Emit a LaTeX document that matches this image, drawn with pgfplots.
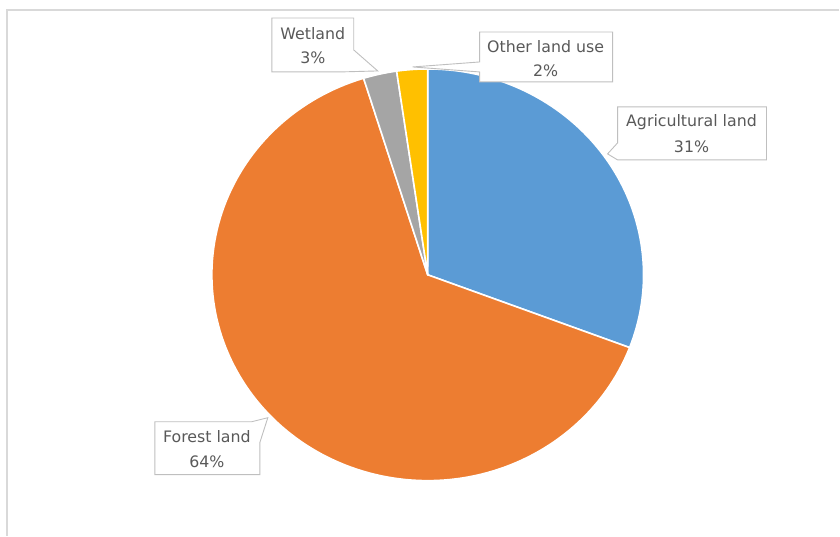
\documentclass[border=0pt]{standalone}
\usepackage{pgfplots}
\usepackage{pgfplotstable}
\pgfplotsset{compat=1.18}
\usepackage{fontspec}
\setmainfont{DejaVu Sans}
\definecolor{agri}{HTML}{5B9BD5}
\definecolor{forest}{HTML}{ED7D31}
\definecolor{wet}{HTML}{A5A5A5}
\definecolor{oth}{HTML}{FFC000}
\definecolor{txt}{HTML}{595959}
\definecolor{bx}{HTML}{BFBFBF}
\definecolor{frm}{HTML}{D9D9D9}
\pgfplotstableread{
label value
Agricultural 30.75
Forest 64.45
Wetland 2.5
Other 2.3
}\piedata
\tikzset{
  lbl/.style={font=\fontsize{15.8}{18}\selectfont, text=txt, anchor=center, inner sep=0pt},
  box/.style={draw=bx, line width=0.9pt, fill=white},
}
\begin{document}
\begin{tikzpicture}
\pgfplotstablegetelem{0}{value}\of\piedata\let\vA\pgfplotsretval
\pgfplotstablegetelem{1}{value}\of\piedata\let\vB\pgfplotsretval
\pgfplotstablegetelem{2}{value}\of\piedata\let\vC\pgfplotsretval
\pgfplotstablegetelem{3}{value}\of\piedata\let\vD\pgfplotsretval
\pgfmathsetmacro\aA{90}
\pgfmathsetmacro\aB{\aA-3.6*\vA}
\pgfmathsetmacro\aC{\aB-3.6*\vB}
\pgfmathsetmacro\aD{\aC-3.6*\vC}
\pgfmathsetmacro\aE{\aD-3.6*\vD}
\begin{axis}[
  x=1pt, y=1pt, xmin=0, xmax=840, ymin=0, ymax=536,
  scale only axis, hide axis, clip=false,
  every axis plot/.append style={draw=white, line width=1.6pt, line join=round, variable=\t},
]
\path (axis cs:0,0) rectangle (axis cs:840,536);
\draw[frm, line width=1.2pt] (axis cs:840,526) -- (axis cs:7,526) -- (axis cs:7,0);
\addplot[fill=agri, domain=\aB:\aA, samples=80] ({428+216*cos(\t)},{261+206*sin(\t)}) -- (axis cs:428,261) -- cycle;
\addplot[fill=forest, domain=\aC:\aB, samples=140] ({428+216*cos(\t)},{261+206*sin(\t)}) -- (axis cs:428,261) -- cycle;
\addplot[fill=wet, domain=\aD:\aC, samples=12] ({428+216*cos(\t)},{261+206*sin(\t)}) -- (axis cs:428,261) -- cycle;
\addplot[fill=oth, domain=\aE:\aD, samples=12] ({428+216*cos(\t)},{261+206*sin(\t)}) -- (axis cs:428,261) -- cycle;
% Wetland label
\draw[box] (axis cs:272,518) -- (axis cs:354,518) -- (axis cs:354,486) -- (axis cs:378,465) -- (axis cs:340,464) -- (axis cs:272,464) -- cycle;
\node[lbl] at (axis cs:313,502) {Wetland};
\node[lbl] at (axis cs:313,478) {3\%};
% Other land use label
\draw[box] (axis cs:480,504) -- (axis cs:613,504) -- (axis cs:613,454) -- (axis cs:480,454) -- (axis cs:480,464) -- (axis cs:413,469) -- (axis cs:480,474) -- cycle;
\node[lbl] at (axis cs:546,489) {Other land use};
\node[lbl] at (axis cs:546,465) {2\%};
% Agricultural label
\draw[box] (axis cs:618,429) -- (axis cs:767,429) -- (axis cs:767,376) -- (axis cs:618,376) -- (axis cs:608,382) -- (axis cs:618,393) -- cycle;
\node[lbl] at (axis cs:692,414) {Agricultural land};
\node[lbl] at (axis cs:692,389) {31\%};
% Forest label
\draw[box] (axis cs:155,114) -- (axis cs:252,114) -- (axis cs:268,118) -- (axis cs:260,93) -- (axis cs:260,61) -- (axis cs:155,61) -- cycle;
\node[lbl] at (axis cs:207,99) {Forest land};
\node[lbl] at (axis cs:207,74) {64\%};
\end{axis}
\end{tikzpicture}
\end{document}
